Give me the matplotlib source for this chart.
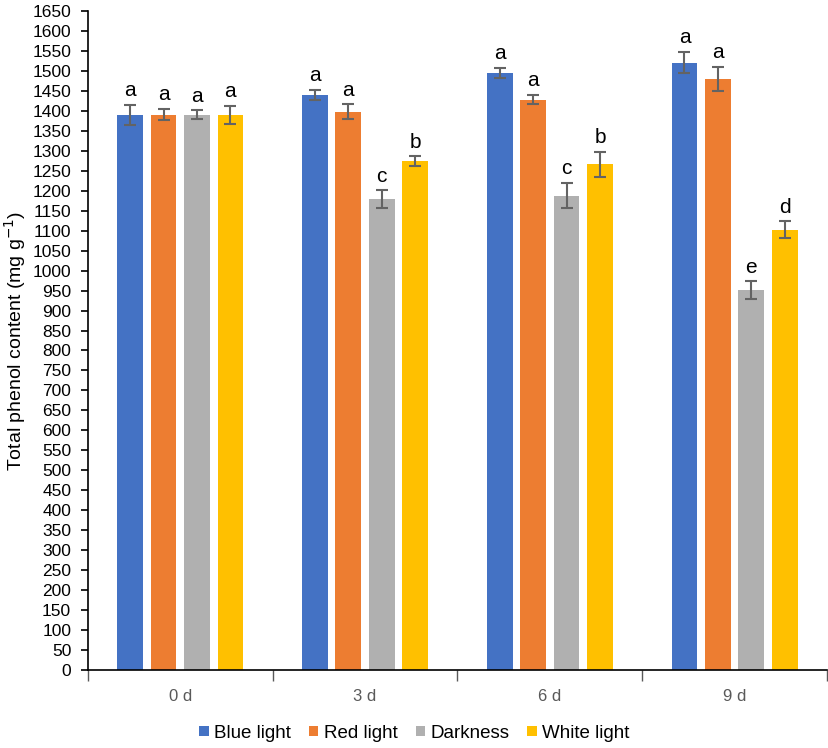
import numpy as np
import matplotlib.pyplot as plt

plt.rcParams['font.family'] = ['Liberation Sans', 'DejaVu Sans']

days = ['0 d', '3 d', '6 d', '9 d']
treatments = ['Blue light', 'Red light', 'Darkness', 'White light']
colors = ['#4472C4', '#ED7D31', '#B0B0B0', '#FFC000']

blue = [1390, 1440, 1495, 1521]
red = [1390, 1398, 1428, 1480]
dark = [1390, 1179, 1188, 951]
white = [1390, 1274, 1266, 1102]

blue_err = [25, 13, 12, 26]
red_err = [14, 18, 12, 31]
dark_err = [11, 22, 32, 22]
white_err = [22, 12, 31, 21]

blue_lbl = ['a', 'a', 'a', 'a']
red_lbl = ['a', 'a', 'a', 'a']
dark_lbl = ['a', 'c', 'c', 'e']
white_lbl = ['a', 'b', 'b', 'd']

values = [blue, red, dark, white]
errors = [blue_err, red_err, dark_err, white_err]
letters = [blue_lbl, red_lbl, dark_lbl, white_lbl]

fig = plt.figure(figsize=(8.29, 7.48), dpi=100)
ax = fig.add_axes([0.106, 0.1043, 0.8916, 0.881])

x = np.arange(len(days))
w = 0.14
pitch = 0.181
for i in range(4):
    pos = x + (i - 1.5) * pitch
    ax.bar(pos, values[i], w, color=colors[i], label=treatments[i], zorder=2)
    ax.errorbar(pos, values[i], yerr=errors[i], fmt='none', ecolor='#636363',
                elinewidth=1.5, capsize=4, capthick=1.5, zorder=3)
    for p, v, e, t in zip(pos, values[i], errors[i], letters[i]):
        ax.text(p, v + e + 12, t, ha='center', va='bottom', fontsize=15)

ax.set_ylim(0, 1650)
ax.set_yticks(np.arange(0, 1651, 50))
ax.tick_params(axis='y', labelsize=12.5, length=5, width=1.2, color='black', pad=7)
ax.set_xlim(-0.5, 3.5)
ax.set_xticks(x)
ax.set_xticklabels(days, color='#595959', fontsize=12)
ax.tick_params(axis='x', which='major', length=0, pad=14)
ax.set_xticks(np.arange(-0.5, 3.6, 1), minor=True)
ax.tick_params(axis='x', which='minor', length=8, width=1, color='#595959')

ax.spines['top'].set_visible(False)
ax.spines['right'].set_visible(False)
ax.spines['left'].set_linewidth(1.2)
ax.spines['bottom'].set_linewidth(1.2)

ax.set_ylabel('Total phenol content (mg g$^{-1}$)', fontsize=14, labelpad=3)

fig.legend(loc='center', bbox_to_anchor=(0.5, 0.02), ncol=4, frameon=False,
           fontsize=13.5, handlelength=0.5, handleheight=0.5, handletextpad=0.3,
           columnspacing=0.95)

fig.savefig('out.png', dpi=100)
